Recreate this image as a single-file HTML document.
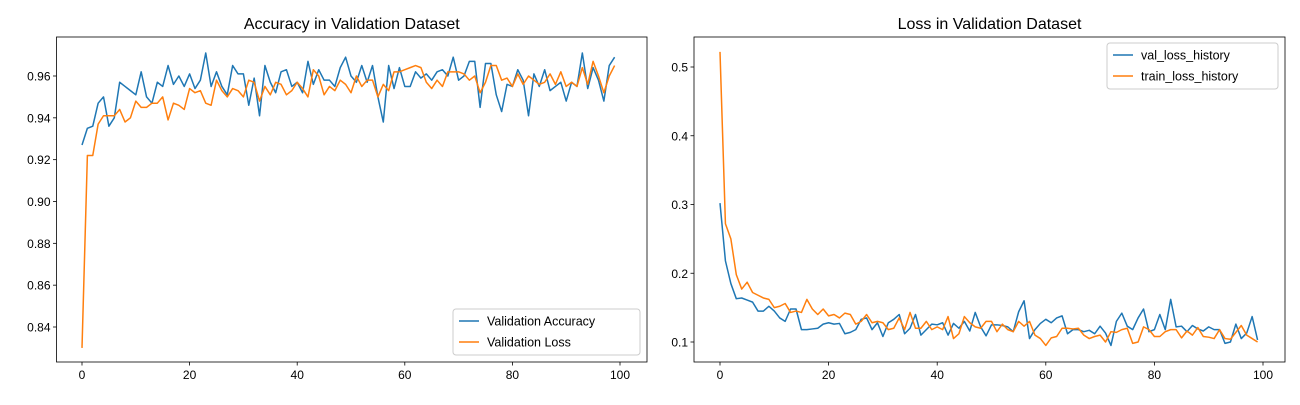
<!DOCTYPE html>
<html><head><meta charset="utf-8"><style>
body{margin:0;background:#fff;}
svg text{font-family:"Liberation Sans",sans-serif;fill:#000;}
</style></head><body>
<svg id="c" width="1300" height="400" xmlns="http://www.w3.org/2000/svg"></svg>
<script>
const epochs=Array.from({length:100},(_,i)=>i);
const valAcc=[0.927,0.935,0.936,0.947,0.950,0.936,0.940,0.957,0.955,0.953,0.951,0.962,0.950,0.947,0.957,0.955,0.965,0.956,0.960,0.955,0.961,0.954,0.958,0.971,0.955,0.962,0.955,0.951,0.965,0.961,0.961,0.946,0.959,0.941,0.965,0.957,0.952,0.962,0.963,0.955,0.957,0.952,0.967,0.956,0.963,0.958,0.958,0.955,0.964,0.969,0.960,0.957,0.965,0.957,0.965,0.950,0.938,0.965,0.954,0.964,0.955,0.955,0.962,0.959,0.961,0.958,0.962,0.963,0.960,0.969,0.958,0.960,0.967,0.967,0.945,0.966,0.966,0.951,0.943,0.956,0.955,0.963,0.958,0.941,0.961,0.955,0.963,0.953,0.955,0.957,0.948,0.957,0.955,0.971,0.954,0.964,0.958,0.948,0.965,0.969];
const valLossAcc=[0.830,0.922,0.922,0.937,0.941,0.941,0.941,0.944,0.938,0.940,0.948,0.945,0.945,0.947,0.947,0.950,0.939,0.947,0.946,0.944,0.954,0.952,0.953,0.947,0.946,0.958,0.953,0.950,0.954,0.953,0.950,0.958,0.957,0.948,0.955,0.951,0.957,0.956,0.951,0.953,0.957,0.954,0.950,0.963,0.960,0.951,0.955,0.953,0.958,0.956,0.952,0.960,0.955,0.958,0.958,0.950,0.956,0.953,0.962,0.962,0.963,0.964,0.965,0.964,0.957,0.954,0.958,0.955,0.962,0.962,0.962,0.961,0.958,0.960,0.952,0.957,0.965,0.965,0.958,0.959,0.955,0.961,0.956,0.960,0.958,0.956,0.957,0.961,0.956,0.962,0.955,0.957,0.955,0.964,0.956,0.967,0.960,0.952,0.960,0.965];
const valLossHist=[0.302,0.218,0.185,0.163,0.164,0.161,0.158,0.145,0.145,0.152,0.145,0.135,0.130,0.148,0.148,0.118,0.118,0.119,0.120,0.126,0.128,0.126,0.127,0.112,0.114,0.118,0.133,0.135,0.118,0.128,0.108,0.128,0.133,0.140,0.112,0.120,0.140,0.110,0.118,0.126,0.125,0.128,0.110,0.127,0.120,0.130,0.116,0.143,0.122,0.109,0.125,0.125,0.124,0.122,0.115,0.144,0.160,0.105,0.118,0.127,0.133,0.128,0.135,0.138,0.112,0.118,0.118,0.115,0.117,0.112,0.123,0.113,0.095,0.130,0.142,0.123,0.118,0.135,0.148,0.115,0.118,0.140,0.118,0.162,0.122,0.123,0.115,0.124,0.119,0.116,0.122,0.118,0.118,0.098,0.100,0.126,0.105,0.113,0.137,0.103];
const trainLossHist=[0.522,0.272,0.250,0.198,0.177,0.187,0.172,0.168,0.164,0.162,0.150,0.152,0.156,0.143,0.145,0.143,0.162,0.148,0.140,0.148,0.138,0.140,0.135,0.142,0.140,0.126,0.130,0.140,0.128,0.130,0.128,0.118,0.120,0.135,0.118,0.143,0.120,0.120,0.130,0.118,0.122,0.118,0.137,0.105,0.112,0.137,0.128,0.122,0.120,0.130,0.130,0.115,0.126,0.118,0.115,0.130,0.123,0.130,0.110,0.105,0.095,0.106,0.108,0.120,0.120,0.119,0.120,0.110,0.105,0.108,0.110,0.100,0.115,0.114,0.118,0.120,0.098,0.100,0.122,0.118,0.108,0.108,0.115,0.118,0.118,0.106,0.116,0.110,0.121,0.108,0.107,0.105,0.118,0.105,0.104,0.114,0.124,0.110,0.105,0.100];
const xTicks=[0,20,40,60,80,100];
const accTicks=[0.84,0.86,0.88,0.90,0.92,0.94,0.96];
const lossTicks=[0.1,0.2,0.3,0.4,0.5];

const svg=document.getElementById('c');
const NS='http://www.w3.org/2000/svg';
function mk(tag,attrs,parent){const e=document.createElementNS(NS,tag);for(const k in attrs)e.setAttribute(k,attrs[k]);(parent||svg).appendChild(e);return e;}

function panel(cfg){
  const g=mk('g',{});
  
  
  const sx=v=>cfg.x0+(v-0)*(cfg.x100-cfg.x0)/100;
  const sy=v=>cfg.yRef+(v-cfg.vRef)*cfg.ppu*-1;
  // ticks
  xTicks.forEach(t=>{
    const x=sx(t);
    mk('line',{x1:x,x2:x,y1:cfg.bottom,y2:cfg.bottom+3.5,stroke:'#000','stroke-width':0.8},g);
    const tx=mk('text',{x:x,y:cfg.bottom+17,'text-anchor':'middle','font-size':12},g);tx.textContent=t;
    
    
  });
  cfg.yTicks.forEach(t=>{
    const y=sy(t);
    mk('line',{x1:cfg.left-3.5,x2:cfg.left,y1:y,y2:y,stroke:'#000','stroke-width':0.8},g);
    const tx=mk('text',{x:cfg.left-6,y:y+4.5,'text-anchor':'end','font-size':12},g);tx.textContent=cfg.fmt(t);
    
    
  });
  cfg.series.forEach(s=>{
    const p=mk('polyline',{points:s.data.map((v,i)=>sx(epochs[i])+','+sy(v)).join(' '),fill:'none',stroke:s.color,'stroke-width':1.5,'stroke-linejoin':'round'},g);
    
    
  });
  mk('rect',{x:cfg.left,y:cfg.top,width:cfg.right-cfg.left,height:cfg.bottom-cfg.top,fill:'none',stroke:'#000','stroke-width':0.8},g);
  const ti=mk('text',{x:(cfg.left+cfg.right)/2,y:cfg.top-8,'text-anchor':'middle','font-size':16},g);ti.textContent=cfg.title;
  
  
  // legend
  const L=cfg.legend;
  const lg=mk('g',{},g);
  
  
  mk('rect',{x:L.x,y:L.y,width:L.w,height:46,rx:3,fill:'#fff',stroke:'#ccc','stroke-width':1},lg);
  cfg.series.forEach((s,i)=>{
    const yy=L.y+12+i*21;
    mk('line',{x1:L.x+6,x2:L.x+26,y1:yy,y2:yy,stroke:s.color,'stroke-width':1.5},lg);
    const t=mk('text',{x:L.x+34,y:yy+4.5,'font-size':12.5},lg);t.textContent=s.label;
    
    
  });
}
panel({name:'accuracy-panel',title:'Accuracy in Validation Dataset',left:56.5,right:647,top:37,bottom:362,x0:82,x100:620,
  yRef:327,vRef:0.84,ppu:2091.7,yTicks:accTicks,fmt:v=>v.toFixed(2),
  series:[{data:valAcc,color:'#1f77b4',label:'Validation Accuracy',name:'validation-accuracy-line'},{data:valLossAcc,color:'#ff7f0e',label:'Validation Loss',name:'validation-loss-line'}],
  legend:{x:453,y:309,w:187}});
panel({name:'loss-panel',title:'Loss in Validation Dataset',left:694,right:1285,top:37,bottom:362,x0:720,x100:1263,
  yRef:342,vRef:0.1,ppu:687.5,yTicks:lossTicks,fmt:v=>v.toFixed(1),
  series:[{data:valLossHist,color:'#1f77b4',label:'val_loss_history',name:'val-loss-history-line'},{data:trainLossHist,color:'#ff7f0e',label:'train_loss_history',name:'train-loss-history-line'}],
  legend:{x:1107,y:43,w:171}});
</script>
</body></html>
